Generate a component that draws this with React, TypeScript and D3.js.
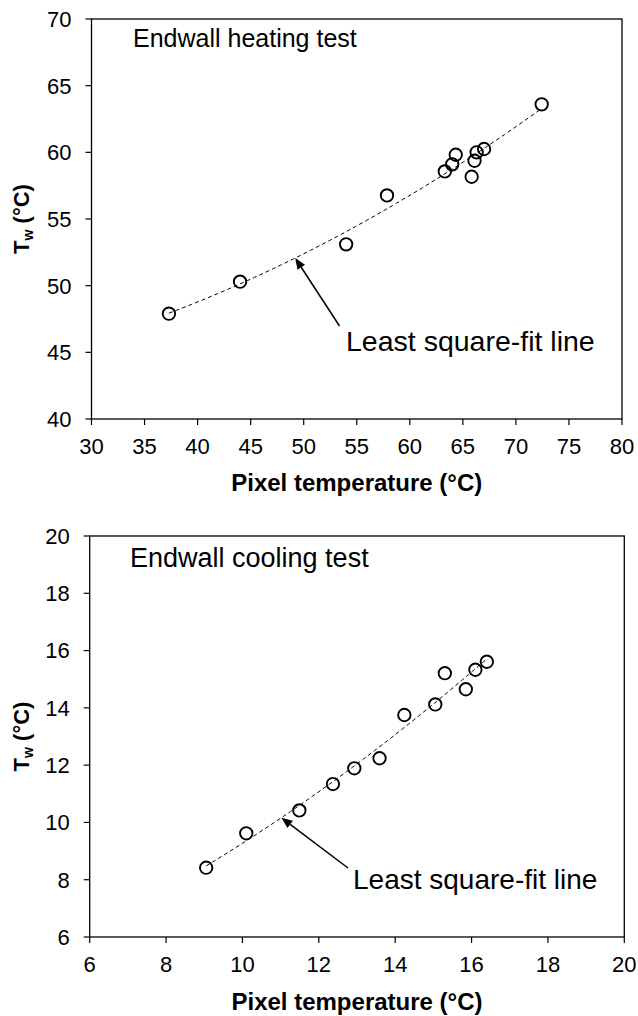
import React from "react";
import * as d3 from "d3";

// ---- Data ----
const heatX = [37.3, 44.0, 54.0, 57.85, 63.3, 64.0, 64.33, 65.83, 66.1, 66.3, 67.0, 72.43];
const heatY = [47.9, 50.3, 53.1, 56.77, 58.57, 59.1, 59.82, 58.17, 59.37, 60.0, 60.25, 63.6];
const coolX = [9.05, 10.1, 11.49, 12.37, 12.93, 13.59, 14.24, 15.05, 15.3, 15.85, 16.1, 16.4];
const coolY = [8.42, 9.62, 10.42, 11.34, 11.89, 12.24, 13.75, 14.12, 15.21, 14.65, 15.33, 15.61];

const heatXTicks = [30, 35, 40, 45, 50, 55, 60, 65, 70, 75, 80];
const heatYTicks = [40, 45, 50, 55, 60, 65, 70];
const coolXTicks = [6, 8, 10, 12, 14, 16, 18, 20];
const coolYTicks = [6, 8, 10, 12, 14, 16, 18, 20];

const heatTitle = "Endwall heating test";
const coolTitle = "Endwall cooling test";
const fitLabel = "Least square-fit line";
const xTitle = "Pixel temperature (°C)";

const FONT = "'Liberation Sans', Arial, Helvetica, sans-serif";

// least squares quadratic fit
function quadFit(xs: number[], ys: number[]) {
  let s0 = 0, s1 = 0, s2 = 0, s3 = 0, s4 = 0, t0 = 0, t1 = 0, t2 = 0;
  xs.forEach((x, i) => {
    const y = ys[i];
    s0 += 1; s1 += x; s2 += x * x; s3 += x * x * x; s4 += x * x * x * x;
    t0 += y; t1 += x * y; t2 += x * x * y;
  });
  const M = [
    [s0, s1, s2, t0],
    [s1, s2, s3, t1],
    [s2, s3, s4, t2],
  ];
  for (let c = 0; c < 3; c++) {
    let p = c;
    for (let r = c + 1; r < 3; r++) if (Math.abs(M[r][c]) > Math.abs(M[p][c])) p = r;
    [M[c], M[p]] = [M[p], M[c]];
    for (let r = 0; r < 3; r++) {
      if (r === c) continue;
      const f = M[r][c] / M[c][c];
      for (let k = c; k < 4; k++) M[r][k] -= f * M[c][k];
    }
  }
  const a = M[0][3] / M[0][0], b = M[1][3] / M[1][1], cc = M[2][3] / M[2][2];
  return (x: number) => a + b * x + cc * x * x;
}

type PanelProps = {
  xs: number[]; ys: number[];
  xDomain: [number, number]; yDomain: [number, number];
  xRange: [number, number]; yRange: [number, number];
  xTicks: number[]; yTicks: number[];
  title: string; titlePos: [number, number]; titleSize: number;
  arrowX: number; arrowTail: [number, number];
  labelPos: [number, number]; labelSize: number;
  xTitleY: number;
};

function Panel(p: PanelProps) {
  const x = d3.scaleLinear().domain(p.xDomain).range(p.xRange);
  const y = d3.scaleLinear().domain(p.yDomain).range(p.yRange);
  const fit = quadFit(p.xs, p.ys);
  const [x0, x1] = d3.extent(p.xs) as [number, number];
  const samples = d3.range(0, 101).map((i) => x0 + ((x1 - x0) * i) / 100);
  const line = d3.line<number>().x((d) => x(d)).y((d) => y(fit(d)));
  const left = p.xRange[0], right = p.xRange[1];
  const top = p.yRange[1], bottom = p.yRange[0];

  const tipX = x(p.arrowX), tipY = y(fit(p.arrowX));
  const [tx, ty] = p.arrowTail;
  const ang = Math.atan2(tipY - ty, tipX - tx);
  const hl = 11, hw = 4.5;
  const bx = tipX - hl * Math.cos(ang), by = tipY - hl * Math.sin(ang);
  const head = [
    [tipX, tipY],
    [bx + hw * Math.sin(ang), by - hw * Math.cos(ang)],
    [bx - hw * Math.sin(ang), by + hw * Math.cos(ang)],
  ].map((q) => q.join(",")).join(" ");

  const midY = (top + bottom) / 2;
  return (
    <g>
      <rect x={left} y={top} width={right - left} height={bottom - top} fill="none" stroke="#000" strokeWidth={1.3} />
      {p.yTicks.map((t) => (
        <g key={"y" + t}>
          <line x1={left - 6} x2={left} y1={y(t)} y2={y(t)} stroke="#000" strokeWidth={1.2} />
          <text x={left - 20} y={y(t)} dy="0.36em" textAnchor="end" fontSize={22} fontFamily={FONT}>{t}</text>
        </g>
      ))}
      {p.xTicks.map((t) => (
        <g key={"x" + t}>
          <line x1={x(t)} x2={x(t)} y1={bottom} y2={bottom + 6} stroke="#000" strokeWidth={1.2} />
          <text x={x(t)} y={bottom + 35} textAnchor="middle" fontSize={22} fontFamily={FONT}>{t}</text>
        </g>
      ))}
      <text x={(left + right) / 2} y={p.xTitleY} textAnchor="middle" fontSize={24} fontWeight="bold" fontFamily={FONT}>{xTitle}</text>
      <text transform={`translate(29,${midY}) rotate(-90)`} textAnchor="middle" fontSize={22} fontWeight="bold" fontFamily={FONT}>
        T<tspan fontSize={14} dy={4}>w</tspan><tspan dy={-4}> (°C)</tspan>
      </text>
      <text x={p.titlePos[0]} y={p.titlePos[1]} fontSize={p.titleSize} fontFamily={FONT}>{p.title}</text>
      <path d={line(samples) || ""} fill="none" stroke="#000" strokeWidth={1} strokeDasharray="4,3" />
      {p.xs.map((v, i) => (
        <circle key={i} cx={x(v)} cy={y(p.ys[i])} r={6.2} fill="none" stroke="#000" strokeWidth={1.9} />
      ))}
      <line x1={tx} y1={ty} x2={bx} y2={by} stroke="#000" strokeWidth={1.5} />
      <polygon points={head} fill="#000" />
      <text x={p.labelPos[0]} y={p.labelPos[1]} fontSize={p.labelSize} fontFamily={FONT}>{fitLabel}</text>
    </g>
  );
}

export default function App() {
  return (
    <svg width={638} height={1016} style={{ position: "absolute", left: 0, top: 0, background: "#fff" }}>
      <rect width={638} height={1016} fill="#fff" />
      <Panel
        xs={heatX} ys={heatY}
        xDomain={[30, 80]} yDomain={[40, 70]}
        xRange={[91.5, 622]} yRange={[419, 19]}
        xTicks={heatXTicks} yTicks={heatYTicks}
        title={heatTitle} titlePos={[133, 47]} titleSize={25}
        arrowX={49.2} arrowTail={[339.5, 326]}
        labelPos={[346, 351]} labelSize={28.5}
        xTitleY={491}
      />
      <Panel
        xs={coolX} ys={coolY}
        xDomain={[6, 20]} yDomain={[6, 20]}
        xRange={[89.7, 624.3]} yRange={[937, 536]}
        xTicks={coolXTicks} yTicks={coolYTicks}
        title={coolTitle} titlePos={[130, 567]} titleSize={27}
        arrowX={11.02} arrowTail={[348, 868]}
        labelPos={[353, 889]} labelSize={28}
        xTitleY={1010}
      />
    </svg>
  );
}
